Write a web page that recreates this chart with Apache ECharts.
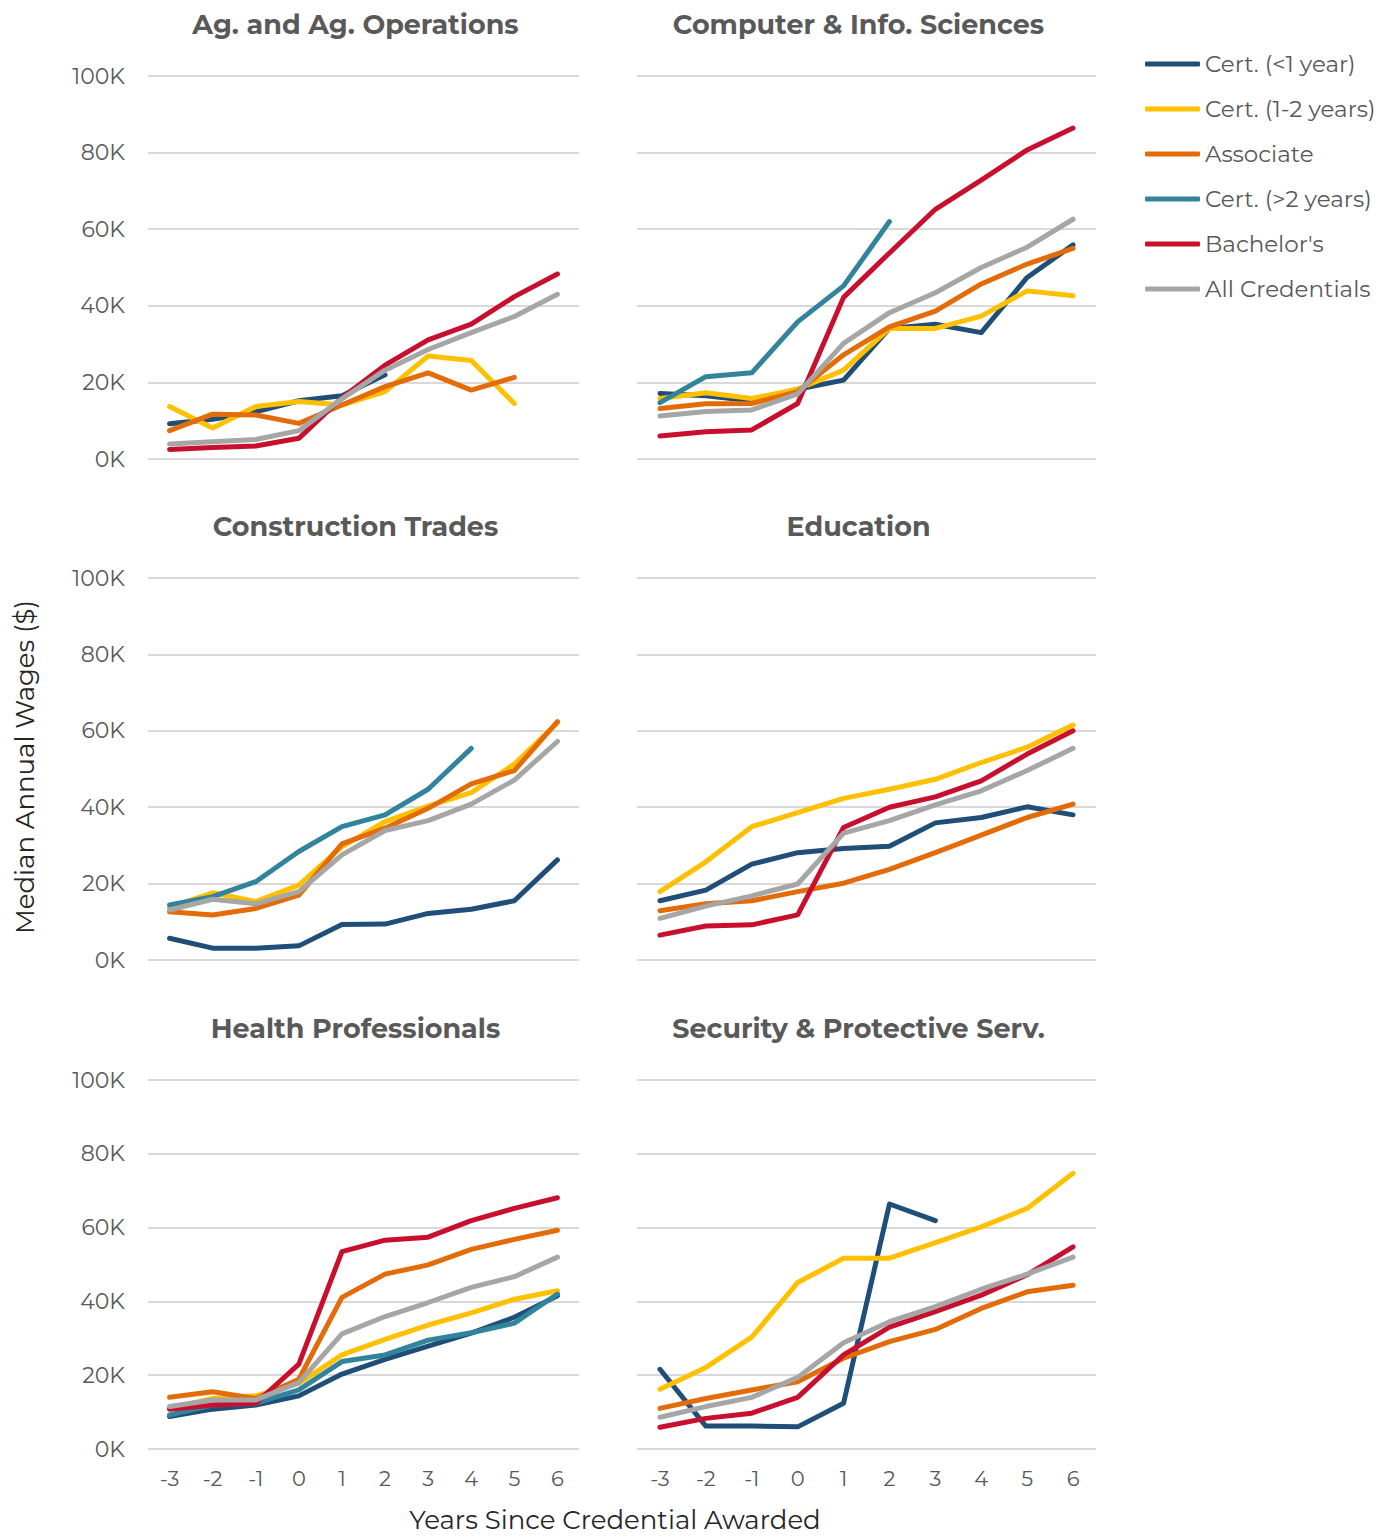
<!DOCTYPE html>
<html>
<head>
<meta charset="utf-8">
<script src="https://cdn.jsdelivr.net/npm/echarts@6/dist/echarts.min.js"></script>
<style>
  html, body { margin: 0; padding: 0; background: #fff; }
  #chart { width: 1384px; height: 1539px; }
</style>
</head>
<body>
<div id="chart"></div>
<script>
// years since credential awarded
var years = ['-3', '-2', '-1', '0', '1', '2', '3', '4', '5', '6']
var yTicks = [0, 20000, 40000, 60000, 80000, 100000]

var seriesNames = ['Cert. (<1 year)', 'Cert. (1-2 years)', 'Associate', 'Cert. (>2 years)', "Bachelor's", 'All Credentials']
var seriesColors = ['#1f4e79', '#ffc000', '#e36c09', '#31849b', '#c8102e', '#a6a6a6']

var panelTitles = ['Ag. and Ag. Operations', 'Computer & Info. Sciences', 'Construction Trades', 'Education', 'Health Professionals', 'Security & Protective Serv.']

// values in thousands of dollars, null = no data
var agCert1 = [9.2, 10.4, 12.3, 15.2, 16.5, 22.0, null, null, null, null]
var agCert12 = [13.7, 8.1, 13.7, 15.0, 14.1, 17.6, 26.9, 25.7, 14.5, null]
var agAssoc = [7.4, 11.7, 11.5, 9.3, 14.1, 18.9, 22.5, 18.0, 21.3, null]
var agCert2 = [null, null, null, null, null, null, null, null, null, null]
var agBach = [2.5, 3.0, 3.4, 5.4, 16.0, 24.5, 31.1, 35.2, 42.4, 48.3]
var agAll = [3.9, 4.5, 5.1, 7.4, 15.7, 23.2, 28.6, 33.0, 37.2, 43.0]

var csCert1 = [17.1, 16.5, 15.2, 18.2, 20.6, 34.1, 35.2, 33.0, 47.4, 55.9]
var csCert12 = [15.8, 17.3, 15.8, 18.2, 23.2, 34.1, 34.1, 37.3, 43.9, 42.6]
var csAssoc = [13.2, 14.4, 14.5, 17.6, 27.2, 34.5, 38.6, 45.7, 50.9, 55.0]
var csCert2 = [14.7, 21.5, 22.5, 35.8, 45.2, 62.0, null, null, null, null]
var csBach = [6.0, 7.1, 7.6, 14.5, 42.2, 53.8, 65.2, 72.8, 80.7, 86.4]
var csAll = [11.2, 12.4, 12.8, 17.0, 30.2, 38.2, 43.4, 50.0, 55.3, 62.6]

var ctCert1 = [5.7, 3.1, 3.1, 3.7, 9.3, 9.4, 12.2, 13.3, 15.5, 26.2]
var ctCert12 = [13.8, 17.6, 15.3, 19.6, 29.7, 36.2, 40.3, 43.8, 51.3, 62.1]
var ctAssoc = [12.6, 11.8, 13.5, 17.0, 30.4, 34.5, 39.7, 46.1, 49.6, 62.4]
var ctCert2 = [14.4, 16.6, 20.5, 28.4, 34.9, 38.0, 44.7, 55.4, null, null]
var ctBach = [null, null, null, null, null, null, null, null, null, null]
var ctAll = [13.1, 15.9, 14.7, 17.9, 27.5, 33.9, 36.5, 40.8, 47.1, 57.2]

var edCert1 = [15.5, 18.3, 25.1, 28.1, 29.2, 29.8, 35.9, 37.3, 40.1, 38.0]
var edCert12 = [17.9, 25.7, 34.9, 38.6, 42.3, 44.7, 47.3, 51.7, 55.7, 61.5]
var edAssoc = [12.9, 14.7, 15.5, 17.9, 20.1, 23.7, 28.1, 32.7, 37.3, 40.8]
var edCert2 = [null, null, null, null, null, null, null, null, null, null]
var edBach = [6.5, 8.9, 9.2, 11.8, 34.7, 40.0, 42.7, 46.9, 53.9, 60.0]
var edAll = [10.9, 14.1, 16.8, 19.9, 33.2, 36.5, 40.6, 44.3, 49.6, 55.4]

var hpCert1 = [8.8, 10.8, 11.9, 14.4, 20.3, 24.3, 27.9, 31.4, 35.7, 41.5]
var hpCert12 = [11.0, 13.7, 14.4, 17.8, 25.5, 29.7, 33.6, 36.9, 40.6, 42.9]
var hpAssoc = [14.0, 15.5, 13.7, 18.9, 41.1, 47.4, 49.9, 54.1, 56.8, 59.3]
var hpCert2 = [9.2, 11.9, 12.4, 16.0, 23.7, 25.5, 29.5, 31.5, 34.1, 42.0]
var hpBach = [10.8, 11.9, 12.4, 23.0, 53.5, 56.6, 57.4, 61.9, 65.2, 68.1]
var hpAll = [11.5, 13.3, 13.3, 18.0, 31.2, 35.9, 39.7, 43.8, 46.7, 52.0]

var spCert1 = [21.6, 6.2, 6.2, 6.0, 12.4, 66.4, 61.9, null, null, null]
var spCert12 = [16.2, 22.1, 30.3, 45.1, 51.7, 51.7, 55.9, 60.2, 65.2, 74.7]
var spAssoc = [11.0, 13.7, 16.0, 18.2, 24.6, 29.1, 32.4, 38.1, 42.6, 44.4]
var spCert2 = [null, null, null, null, null, null, null, null, null, null]
var spBach = [5.9, 8.3, 9.7, 14.0, 25.5, 33.0, 37.2, 41.7, 47.2, 54.8]
var spAll = [8.6, 11.5, 14.0, 19.4, 28.8, 34.5, 38.6, 43.3, 47.4, 52.0]

var panelData = [
  [agCert1, agCert12, agAssoc, agCert2, agBach, agAll],
  [csCert1, csCert12, csAssoc, csCert2, csBach, csAll],
  [ctCert1, ctCert12, ctAssoc, ctCert2, ctBach, ctAll],
  [edCert1, edCert12, edAssoc, edCert2, edBach, edAll],
  [hpCert1, hpCert12, hpAssoc, hpCert2, hpBach, hpAll],
  [spCert1, spCert12, spAssoc, spCert2, spBach, spAll]
]

var FONT = 'Montserrat, "Noto Sans", sans-serif'
var TEXT_GRAY = '#595959'

// panel boxes (px)
var cols = [{ left: 148, width: 431 }, { left: 637, width: 459 }]
var rows = [{ top: 76, height: 383 }, { top: 578, height: 382 }, { top: 1080, height: 369 }]

var chart = echarts.init(document.getElementById('chart'), null, { renderer: 'svg' })

var grid = []
var xAxis = []
var yAxis = []
var series = []
var graphic = []

panelData.forEach(function(lines, p) {
  var c = cols[p % 2]
  var r = rows[Math.floor(p / 2)]
  var isBottom = Math.floor(p / 2) === 2
  grid.push({ left: c.left, top: r.top, width: c.width, height: r.height, containLabel: false })
  xAxis.push({
    type: 'category',
    gridIndex: p,
    data: years,
    boundaryGap: true,
    axisLine: { show: false },
    axisTick: { show: false },
    axisLabel: { show: isBottom, color: TEXT_GRAY, fontSize: 21, fontFamily: FONT, margin: 19 }
  })
  yAxis.push({
    type: 'value',
    gridIndex: p,
    min: yTicks[0],
    max: yTicks[yTicks.length - 1],
    interval: 20000,
    axisLine: { show: false },
    axisTick: { show: false },
    splitLine: { lineStyle: { color: '#d9d9d9', width: 2 } },
    axisLabel: {
      show: p % 2 === 0,
      color: TEXT_GRAY,
      fontSize: 22,
      fontFamily: FONT,
      margin: 23,
      formatter: function(v) { return (v / 1000) + 'K' }
    }
  })
  lines.forEach(function(vals, s) {
    series.push({
      name: seriesNames[s],
      type: 'line',
      xAxisIndex: p,
      yAxisIndex: p,
      data: vals.map(function(v) { return v == null ? null : v * 1000 }),
      showSymbol: false,
      symbol: 'none',
      connectNulls: false,
      lineStyle: { width: 5, color: seriesColors[s], cap: 'round', join: 'round' },
      itemStyle: { color: seriesColors[s] }
    })
  })
  // panel title
  graphic.push({
    type: 'text',
    x: c.left + c.width / 2 - 8,
    y: r.top - 52,
    style: {
      text: panelTitles[p],
      fill: TEXT_GRAY,
      font: 'bold 27px ' + FONT,
      textAlign: 'center',
      textVerticalAlign: 'middle'
    }
  })
})

graphic.push({
  type: 'text',
  x: 615,
  y: 1520,
  style: {
    text: 'Years Since Credential Awarded',
    fill: '#262626',
    font: '26px ' + FONT,
    textAlign: 'center',
    textVerticalAlign: 'middle'
  }
})
graphic.push({
  type: 'text',
  x: 25,
  y: 767,
  rotation: Math.PI / 2,
  style: {
    text: 'Median Annual Wages ($)',
    fill: '#262626',
    font: '26px ' + FONT,
    textAlign: 'center',
    textVerticalAlign: 'middle'
  }
})

var option = {
  backgroundColor: '#fff',
  animation: false,
  color: seriesColors,
  legend: {
    data: seriesNames.map(function(n, i) {
      return { name: n, icon: 'roundRect', itemStyle: { color: seriesColors[i] } }
    }),
    orient: 'vertical',
    left: 1145,
    top: 49,
    padding: 0,
    itemWidth: 55,
    itemHeight: 5,
    itemGap: 15,
    textStyle: { color: TEXT_GRAY, fontSize: 23, fontFamily: FONT, lineHeight: 30 }
  },
  grid: grid,
  xAxis: xAxis,
  yAxis: yAxis,
  series: series,
  graphic: graphic
}

chart.setOption(option)
</script>
</body>
</html>
